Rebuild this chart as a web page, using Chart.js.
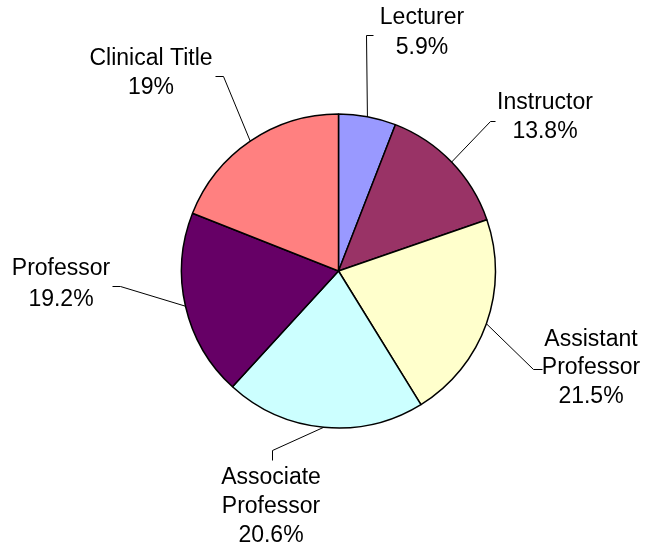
<!DOCTYPE html>
<html>
<head>
<meta charset="utf-8">
<script src="https://cdn.jsdelivr.net/npm/chart.js@4/dist/chart.umd.min.js"></script>
<style>
  html, body { margin: 0; padding: 0; background: #fff; }
  #wrap { width: 647px; height: 548px; position: relative; }
</style>
</head>
<body>
<div id="wrap"><canvas id="myChart" width="647" height="548"></canvas></div>
<script>
const categories = ['Lecturer', 'Instructor', 'Assistant Professor', 'Associate Professor', 'Professor', 'Clinical Title'];
const shares = [5.9, 13.8, 21.5, 20.6, 19.2, 19];
const shareLabels = ['5.9%', '13.8%', '21.5%', '20.6%', '19.2%', '19%'];
const colors = ['#9999FF', '#993366', '#FFFFCC', '#CCFFFF', '#660066', '#FF8080'];

// where each label sits and how its leader line bends (canvas pixels)
const labelLayout = [
  { lines: ['Lecturer'], x: 422, y: [18, 48], path: [[366, 35], [373, 35]] },
  { lines: ['Instructor'], x: 545, y: [103, 132], path: [[490, 121], [495, 121]] },
  { lines: ['Assistant', 'Professor'], x: 591, y: [340, 368, 397], path: [[533, 369], [542, 369]] },
  { lines: ['Associate', 'Professor'], x: 271, y: [478, 507, 536], path: [[272, 450], [272, 460]] },
  { lines: ['Professor'], x: 61, y: [269, 300], path: [[120, 286], [112, 286]] },
  { lines: ['Clinical Title'], x: 151, y: [59, 88], path: [[223, 76], [215, 76]] }
];

const pieLabels = {
  id: 'pieLabels',
  afterDatasetsDraw(chart) {
    const ctx = chart.ctx;
    const arcs = chart.getDatasetMeta(0).data;
    ctx.save();
    ctx.strokeStyle = '#000';
    ctx.lineWidth = 1;
    ctx.fillStyle = '#000';
    ctx.font = '23px "Liberation Sans", Arial, sans-serif';
    ctx.textAlign = 'center';
    ctx.textBaseline = 'middle';
    arcs.forEach((arc, i) => {
      const p = arc.getProps(['x', 'y', 'startAngle', 'endAngle', 'outerRadius'], true);
      const mid = (p.startAngle + p.endAngle) / 2;
      const sx = p.x + Math.cos(mid) * p.outerRadius;
      const sy = p.y + Math.sin(mid) * p.outerRadius;
      const lay = labelLayout[i];
      ctx.beginPath();
      ctx.moveTo(sx, sy);
      lay.path.forEach(pt => ctx.lineTo(pt[0] + 0.5, pt[1] + 0.5));
      ctx.stroke();
      const texts = lay.lines.concat([shareLabels[i]]);
      texts.forEach((t, k) => ctx.fillText(t, lay.x, lay.y[k]));
    });
    ctx.restore();
  }
};

const data = {
  labels: categories,
  datasets: [{
    data: shares,
    backgroundColor: colors,
    borderColor: '#000',
    borderWidth: 1.5,
    borderAlign: 'center'
  }]
};

const config = {
  type: 'pie',
  data: data,
  options: {
    responsive: false,
    animation: false,
    radius: 157,
    layout: { padding: { left: 181, right: 151, top: 114, bottom: 120 } },
    plugins: {
      legend: { display: false },
      tooltip: { enabled: false }
    }
  },
  plugins: [pieLabels]
};

const myChart = new Chart(document.getElementById('myChart'), config);
</script>
</body>
</html>
